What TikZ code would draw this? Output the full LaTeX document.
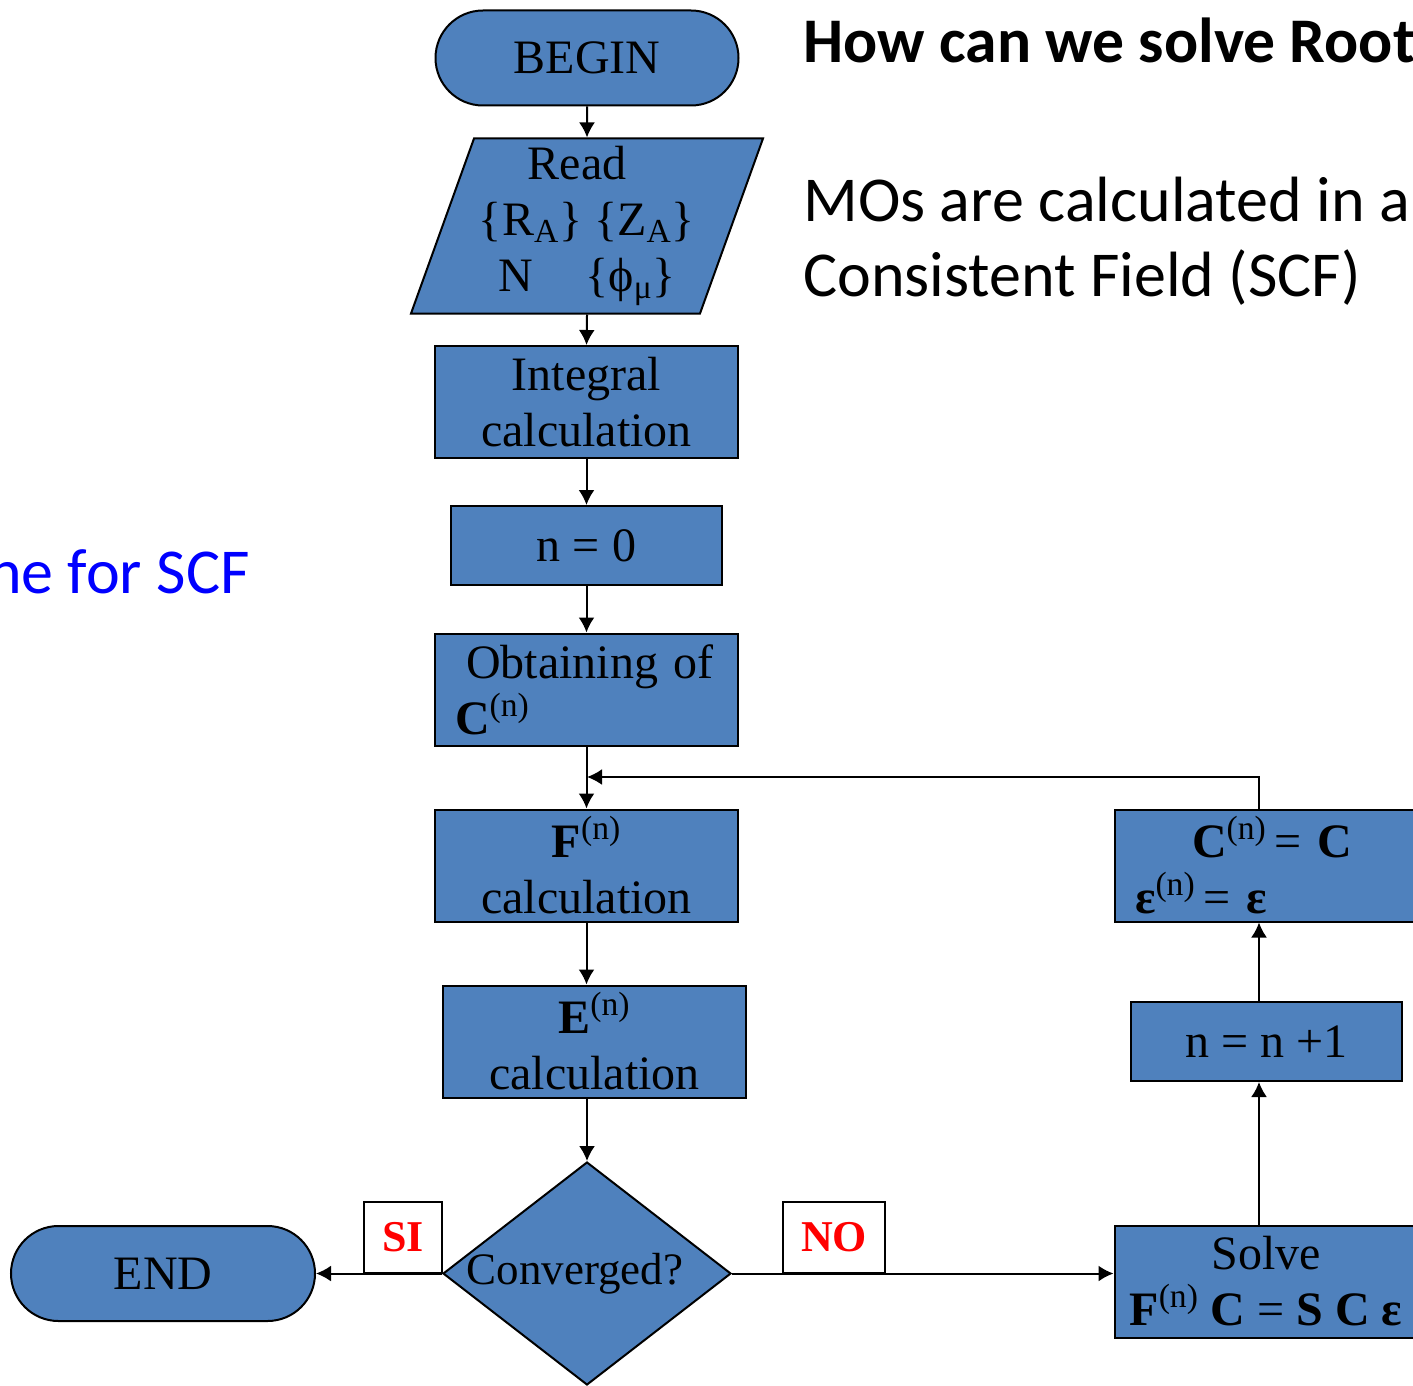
\documentclass[tikz,border=0pt]{standalone}
\usepackage{fontspec}
\setmainfont{Liberation Serif}
\newfontfamily\slidefont{Carlito}
\usetikzlibrary{shapes.geometric,shapes.misc,arrows.meta}

\definecolor{fcblue}{RGB}{79, 129, 189}
\definecolor{fcred}{RGB}{255, 0, 0}
\definecolor{fcnote}{RGB}{0, 0, 255}

\begin{document}
\begin{tikzpicture}[
    x=0.5pt, y=-0.5pt,
    font=\fontsize{24}{28}\selectfont,
    box/.style={draw=black, line width=1pt, fill=fcblue, inner sep=0pt, align=center},
    term/.style={box, rounded rectangle, minimum width=151.5pt, minimum height=47.5pt},
    proc/.style={box, rectangle, minimum width=151.5pt, minimum height=56pt},
    tag/.style={draw=black, line width=0.7pt, fill=white, text=fcred, inner sep=0pt,
      font=\fontsize{22}{26}\selectfont\bfseries, minimum height=35.5pt},
    arr/.style={line width=1pt, -{Latex[length=7.5pt, width=8pt]}},
    slide/.style={font=\slidefont\fontsize{32}{38}\selectfont, inner sep=0pt, anchor=base west},
  ]
    \useasboundingbox (0, 0) rectangle (1413, 1386);
    \clip (0, 0) rectangle (1413, 1386);

    % --- main column ---
    \node[term] (begin) at (587, 58) {BEGIN};
    \node[box, trapezium, trapezium left angle=68.5, trapezium right angle=111.5,
      trapezium stretches body, minimum width=176pt, minimum height=87.5pt]
      (read) at (587, 226)
      {\hspace*{-10pt}Read\\\{R\textsubscript{A}\} \{Z\textsubscript{A}\}\\N\hspace{1.1em}\{ϕ\textsubscript{μ}\}};
    \node[proc] (integ) at (586.5, 402) {Integral\\calculation};
    \node[proc, minimum width=135.5pt, minimum height=39.5pt] (nzero) at (586.5, 545.5) {n = 0};
    \node[proc, inner xsep=10pt, text width=131.5pt, align=left] (obtain) at (586.5, 689.5)
      {\hspace*{5.5pt}Obtaining of\\\textbf{C}\textsuperscript{(n)}};
    \node[proc] (fcalc) at (586.5, 865.5) {\textbf{F}\textsuperscript{(n)}\\calculation};
    \node[proc] (ecalc) at (594.5, 1041.5) {\textbf{E}\textsuperscript{(n)}\\calculation};
    \node[box, diamond, aspect=1.29, minimum width=144pt, minimum height=111.5pt,
      font=\fontsize{22.5}{26}\selectfont] (conv) at (587, 1273.5)
      {\hspace*{-12pt}\raisebox{-3pt}{Converged?}};
    \node[term, minimum width=152pt] (endn) at (163, 1273.5) {END};

    % --- answer tags ---
    \node[tag, minimum width=39pt] (si) at (403, 1237.5) {SI};
    \node[tag, minimum width=51pt] (no) at (834, 1237.5) {NO};

    % --- right column (loop) ---
    \node[proc] (solve) at (1266, 1281.5)
      {Solve\\\textbf{F}\textsuperscript{(n)} \textbf{C} = \textbf{S} \textbf{C} \textbf{ε}};
    \node[proc, minimum width=135.5pt, minimum height=39.5pt] (nplus) at (1266.5, 1041.5) {n = n +1};
    \node[proc, inner xsep=10pt, text width=131pt, align=left] (cupd) at (1266, 865.5)
      {\hspace*{28.5pt}\textbf{C}\textsuperscript{(n)}\,= \textbf{C}\\\textbf{ε}\textsuperscript{(n)}\,= \textbf{ε}};
    \coordinate (rx) at (1259, 0);
    \coordinate (loop) at (587, 777);

    % --- connectors ---
    \draw[arr] (begin.south) -- (read.north);
    \draw[arr] (read.south) -- (integ.north);
    \draw[arr] (integ.south) -- (nzero.north);
    \draw[arr] (nzero.south) -- (obtain.north);
    \draw[arr] (obtain.south) -- (fcalc.north);
    \draw[arr] (fcalc.south) -- (fcalc.south |- ecalc.north);
    \draw[arr] (conv.north |- ecalc.south) -- (conv.north);
    \draw[arr] (conv.west) -- (endn.east);
    \draw[arr] (conv.east) -- (conv.east -| solve.west);
    \draw[arr] (solve.north -| rx) -- (nplus.south -| rx);
    \draw[arr] (nplus.north -| rx) -- (cupd.south -| rx);
    \draw[arr] (cupd.north -| rx) |- (loop);

    % --- slide text ---
    \node[slide, font=\slidefont\fontsize{31.8}{38}\selectfont\bfseries] (title) at (803, 63) {How can we solve Root};
    \node[slide] (mos) at (803, 221) {MOs are calculated in a};
    \node[slide] (scf) at (803, 296) {Consistent Field (SCF)};
    \node[slide, anchor=base east, text=fcnote] (scheme) at (250, 593) {ne for SCF};
\end{tikzpicture}
\end{document}
